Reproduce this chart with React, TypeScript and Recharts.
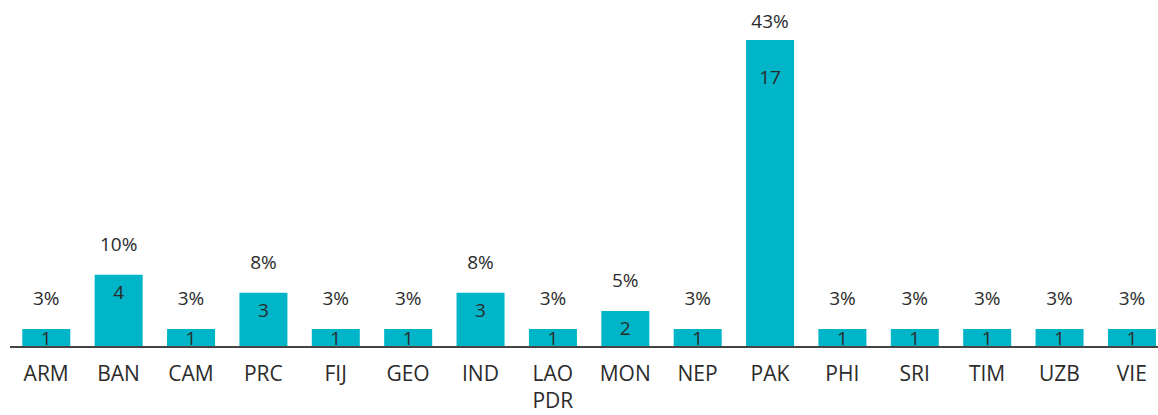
import { BarChart, Bar, XAxis, YAxis, LabelList } from "recharts";

const economies = ["ARM", "BAN", "CAM", "PRC", "FIJ", "GEO", "IND", "LAO PDR", "MON", "NEP", "PAK", "PHI", "SRI", "TIM", "UZB", "VIE"];
const counts = [1, 4, 1, 3, 1, 1, 3, 1, 2, 1, 17, 1, 1, 1, 1, 1];
const shares = ["3%", "10%", "3%", "8%", "3%", "3%", "8%", "3%", "5%", "3%", "43%", "3%", "3%", "3%", "3%", "3%"];

const data = economies.map((name, i) => ({ name, count: counts[i], share: shares[i] }));

const textColor = "#2b2b2b";
const font = "'Open Sans', sans-serif";

function EconomyTick(props: any) {
  const { x, y, payload } = props;
  const lines = String(payload.value).split(" ");
  return (
    <text x={x} y={y} textAnchor="middle" fill={textColor} fontFamily={font} fontSize={21}>
      {lines.map((l: string, i: number) => (
        <tspan key={l} x={x} dy={i === 0 ? 26 : 27}>
          {l}
        </tspan>
      ))}
    </text>
  );
}

function ShareLabel(props: any) {
  const { x, y, width, value } = props;
  return (
    <text x={x + width / 2} y={Math.max(y - 31, 21)} textAnchor="middle" dominantBaseline="central"
      fill={textColor} fontFamily={font} fontSize={19}>
      {value}
    </text>
  );
}

function CountLabel(props: any) {
  const { x, y, width, height, value } = props;
  const off = Math.min(height / 2, Math.max(17, height * 0.12));
  return (
    <text x={x + width / 2} y={y + off} textAnchor="middle" dominantBaseline="central"
      fill={textColor} fontFamily={font} fontSize={19}>
      {value}
    </text>
  );
}

export default function App() {
  return (
    <div style={{ position: "absolute", left: 0, top: 0, width: 1158, height: 415, overflow: "hidden", background: "#fff" }}>
      <BarChart width={1180} height={415} data={data} margin={{ top: 40, right: 12, bottom: 8, left: 10 }} barCategoryGap="17%">
        <XAxis
          dataKey="name"
          height={60}
          interval={0}
          tickLine={false}
          axisLine={{ stroke: "#444", strokeWidth: 2 }}
          tick={<EconomyTick />}
        />
        <YAxis hide domain={[0, 17]} />
        <Bar dataKey="count" fill="#00B5C7" isAnimationActive={false}>
          <LabelList dataKey="share" content={<ShareLabel />} />
          <LabelList dataKey="count" content={<CountLabel />} />
        </Bar>
      </BarChart>
    </div>
  );
}
